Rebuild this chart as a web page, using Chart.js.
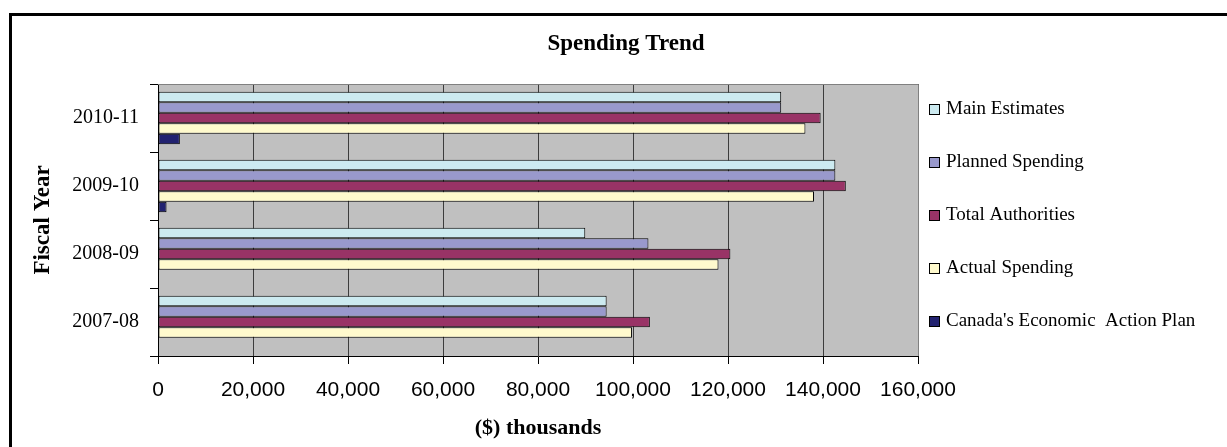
<!DOCTYPE html>
<html><head><meta charset="utf-8">
<script src="https://cdn.jsdelivr.net/npm/chart.js@4.4.1/dist/chart.umd.min.js"></script>
<style>
html,body{margin:0;padding:0;background:#fff;}
#wrap{position:relative;width:1227px;height:447px;overflow:hidden;}
#frame{position:absolute;left:9px;top:13px;width:1300px;height:500px;border-top:3px solid #000;border-left:3px solid #000;}
canvas{position:absolute;left:0;top:0;}
</style></head><body>
<div id="wrap"><div id="frame"></div><canvas id="c" width="1227" height="447"></canvas></div>
<script>
// ---- data ----
const chartTitle = 'Spending Trend';
const categories = ['2010-11', '2009-10', '2008-09', '2007-08'];
const seriesNames = ['Main Estimates', 'Planned Spending', 'Total Authorities', 'Actual Spending', "Canada's Economic  Action Plan"];
const mainEstimates = [131200, 142600, 89950, 94450];
const plannedSpending = [131200, 142600, 103250, 94450];
const totalAuthorities = [139500, 144800, 120500, 103550];
const actualSpending = [136300, 138100, 118000, 99800];
const economicActionPlan = [4600, 1800, null, null];
const xTickValues = [0, 20000, 40000, 60000, 80000, 100000, 120000, 140000, 160000];
const seriesColors = ['#CCEAF0', '#9999CC', '#993366', '#FFFACD', '#222270'];

const seriesValues = [mainEstimates, plannedSpending, totalAuthorities, actualSpending, economicActionPlan];

const plotBg = {
  id: 'plotBg',
  beforeDraw(chart) {
    const {ctx, chartArea: a} = chart;
    ctx.save();
    ctx.fillStyle = '#C0C0C0';
    ctx.fillRect(a.left, a.top, a.right - a.left, a.bottom - a.top);
    ctx.restore();
  },
  beforeDatasetsDraw(chart) {
    const {ctx, chartArea: a} = chart;
    ctx.save();
    ctx.strokeStyle = '#808080';
    ctx.lineWidth = 1;
    ctx.beginPath();
    ctx.moveTo(a.left, a.top + 0.5);
    ctx.lineTo(a.right + 0.5, a.top + 0.5);
    ctx.lineTo(a.right + 0.5, a.bottom);
    ctx.stroke();
    ctx.restore();
  }
};

const customText = {
  id: 'customText',
  afterDraw(chart) {
    const {ctx, chartArea: a} = chart;
    ctx.save();
    // title
    ctx.fillStyle = '#000';
    ctx.font = 'bold 23px "Liberation Serif", "Times New Roman", serif';
    ctx.textAlign = 'center';
    ctx.textBaseline = 'middle';
    ctx.fillText(chartTitle, 626, 44);
    // legend
    ctx.font = '19px "Liberation Serif", "Times New Roman", serif';
    ctx.textAlign = 'left';
    const x0 = a.right + 11;
    chart.data.datasets.forEach((ds, i) => {
      const cy = 109 + i * 53;
      ctx.fillStyle = ds.backgroundColor;
      ctx.fillRect(x0, cy - 5, 10, 10);
      ctx.strokeStyle = '#000';
      ctx.lineWidth = 1;
      ctx.strokeRect(x0 + 0.5, cy - 5 + 0.5, 10, 10);
      ctx.fillStyle = '#000';
      ctx.fillText(ds.label, x0 + 17, cy);
    });
    ctx.restore();
  }
};

new Chart(document.getElementById('c'), {
  type: 'bar',
  data: {
    labels: categories,
    datasets: seriesNames.map((name, i) => ({
      label: name,
      data: seriesValues[i],
      backgroundColor: seriesColors[i],
      borderColor: '#000',
      borderWidth: 1,
      borderSkipped: false,
      categoryPercentage: 0.77,
      barPercentage: 1.0
    }))
  },
  options: {
    indexAxis: 'y',
    responsive: false,
    animation: false,
    devicePixelRatio: 1,
    layout: {padding: {top: 84, right: 309, bottom: 0, left: 0}},
    plugins: {legend: {display: false}, title: {display: false}, tooltip: {enabled: false}},
    scales: {
      x: {
        min: 0, max: 160000,
        afterBuildTicks(scale) { scale.ticks = xTickValues.map(v => ({value: v})); },
        afterFit(scale) { scale.height = 91; },
        ticks: {
          color: '#000',
          padding: 14,
          font: {family: '"Liberation Sans", Arial, sans-serif', size: 21},
          callback: v => v.toLocaleString('en-US')
        },
        grid: {color: '#3c3c3c', lineWidth: 1, drawTicks: true, tickLength: 8, tickColor: '#000'},
        border: {display: true, color: '#000', width: 1},
        title: {
          display: true, text: '($) thousands', color: '#000',
          font: {family: '"Liberation Serif", "Times New Roman", serif', size: 22, weight: 'bold'},
          padding: {top: 0, bottom: 5}
        }
      },
      y: {
        afterFit(scale) { scale.width = 158; },
        ticks: {
          color: '#000',
          padding: 11,
          font: {family: '"Liberation Serif", "Times New Roman", serif', size: 20}
        },
        grid: {offset: true, drawOnChartArea: false, drawTicks: true, tickLength: 8, tickColor: '#000'},
        border: {display: true, color: '#000', width: 1},
        title: {
          display: true, text: 'Fiscal Year', color: '#000',
          font: {family: '"Liberation Serif", "Times New Roman", serif', size: 23, weight: 'bold'},
          padding: {top: 29, bottom: 0}
        }
      }
    }
  },
  plugins: [plotBg, customText]
});
</script>
</body></html>
